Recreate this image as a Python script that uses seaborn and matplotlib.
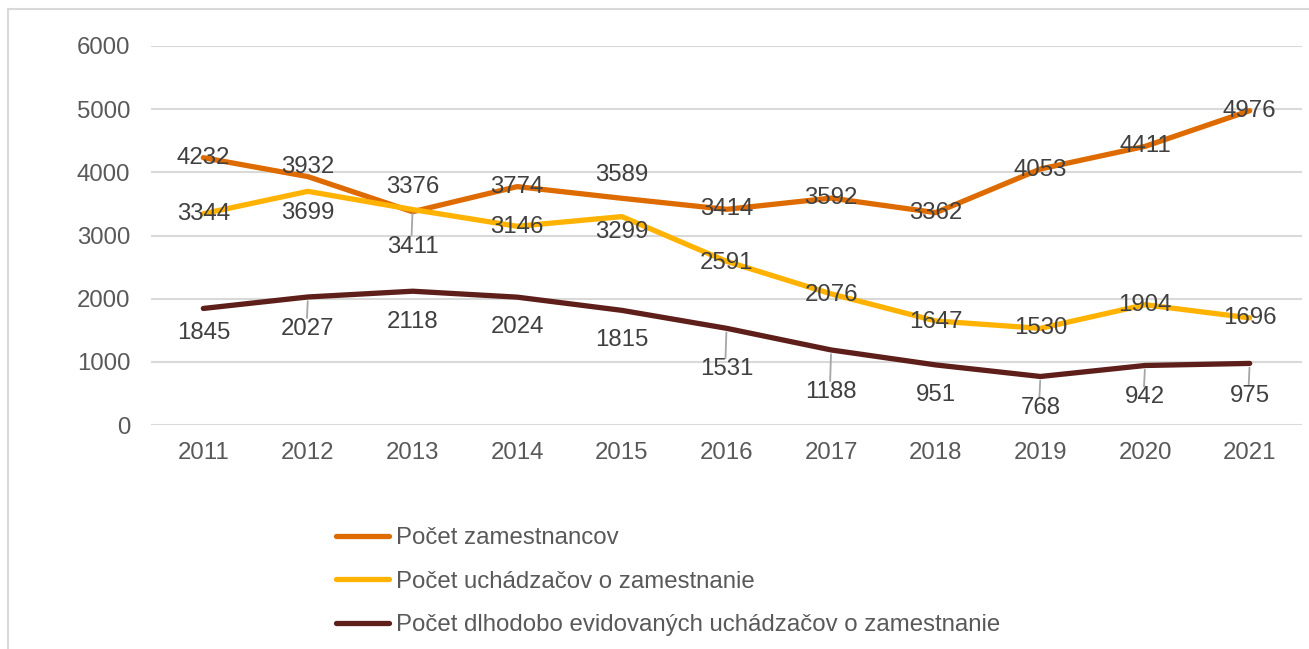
import matplotlib
matplotlib.use("Agg")
import matplotlib.pyplot as plt
import seaborn as sns
import pandas as pd
from matplotlib.patches import Rectangle
from matplotlib.lines import Line2D

years = [2011, 2012, 2013, 2014, 2015, 2016, 2017, 2018, 2019, 2020, 2021]
zamestnanci = [4232, 3932, 3376, 3774, 3589, 3414, 3592, 3362, 4053, 4411, 4976]
uchadzaci = [3344, 3699, 3411, 3146, 3299, 2591, 2076, 1647, 1530, 1904, 1696]
dlhodobi = [1845, 2027, 2118, 2024, 1815, 1531, 1188, 951, 768, 942, 975]
series_names = ["Počet zamestnancov",
                "Počet uchádzačov o zamestnanie",
                "Počet dlhodobo evidovaných uchádzačov o zamestnanie"]
y_ticks = [0, 1000, 2000, 3000, 4000, 5000, 6000]

colors = ["#DE6B00", "#FFB300", "#5E1F1B"]
# label vertical offsets in pixels (positive = up) and leader-line flags
label_dy = [
    [0, 10, 25, 0, 23, 0, 0, 0, -1, 0, 0],
    [0, -22, -37, -1, -15, -2, -1, -1, 0, 0, 0],
    [-25, -32, -31, -30, -30, -41, -42, -30, -32, -32, -33],
]
leaders = [
    [0] * 11,
    [0, 0, 1, 0, 0, 0, 0, 0, 0, 0, 0],
    [0, 1, 0, 0, 0, 1, 1, 0, 1, 1, 1],
]

FS = 17.3

sns.set_theme(style="white")
plt.rcParams["font.family"] = ["Liberation Sans", "DejaVu Sans"]

df = pd.DataFrame({
    "rok": [str(y) for y in years] * 3,
    "hodnota": zamestnanci + uchadzaci + dlhodobi,
    "séria": [series_names[0]] * 11 + [series_names[1]] * 11 + [series_names[2]] * 11,
})

fig = plt.figure(figsize=(13.09, 6.49), dpi=100)
W, H = 1309, 649
ax = fig.add_axes([151 / W, 1 - 425 / H, (1302 - 151) / W, (425 - 46) / H])

# outer chart border
fig.patches.append(Rectangle((8 / W, -0.05), 1.2, 1 - 9 / H + 0.05, transform=fig.transFigure,
                             fill=False, edgecolor="#D9D9D9", linewidth=1.5, zorder=0))

sns.lineplot(data=df, x="rok", y="hodnota", hue="séria", palette=colors,
             linewidth=3.8, ax=ax, sort=False, legend=False)
for ln in ax.lines:
    ln.set_solid_capstyle("round")
    ln.set_solid_joinstyle("round")

ax.set_xlim(-0.5, len(years) - 0.5)
ax.set_ylim(0, 6000)
ax.set_yticks(y_ticks)
ax.set_yticklabels([str(v) for v in y_ticks])
ax.set_xlabel("")
ax.set_ylabel("")
ax.grid(axis="y", color="#D9D9D9", linewidth=1.5)
ax.set_axisbelow(True)
for s in ax.spines.values():
    s.set_visible(False)
ax.tick_params(axis="both", length=0, labelsize=FS, labelcolor="#595959")
ax.tick_params(axis="x", pad=12)
ax.tick_params(axis="y", pad=15)

all_vals = [zamestnanci, uchadzaci, dlhodobi]
for si, vals in enumerate(all_vals):
    for i, v in enumerate(vals):
        dy = label_dy[si][i]
        ax.annotate(str(v), xy=(i, v), xytext=(0, dy), textcoords="offset pixels",
                    ha="center", va="center", fontsize=FS, color="#404040", zorder=5)
        if leaders[si][i]:
            ax.annotate("", xy=(i, v), xytext=(-1, dy + 11), textcoords="offset pixels",
                        arrowprops=dict(arrowstyle="-", color="#A6A6A6", lw=1.3,
                                        shrinkA=0, shrinkB=3), zorder=4)

handles = [Line2D([0], [0], color=c, linewidth=3.8, solid_capstyle="round") for c in colors]
fig.legend(handles, series_names, loc="upper left", bbox_to_anchor=(336 / W, 1 - 527 / H),
           frameon=False, fontsize=FS, labelcolor="#595959", handlelength=2.2,
           handletextpad=0.3, labelspacing=0.9, borderaxespad=0, borderpad=0)

fig.savefig("out.png", dpi=100, facecolor="white")
